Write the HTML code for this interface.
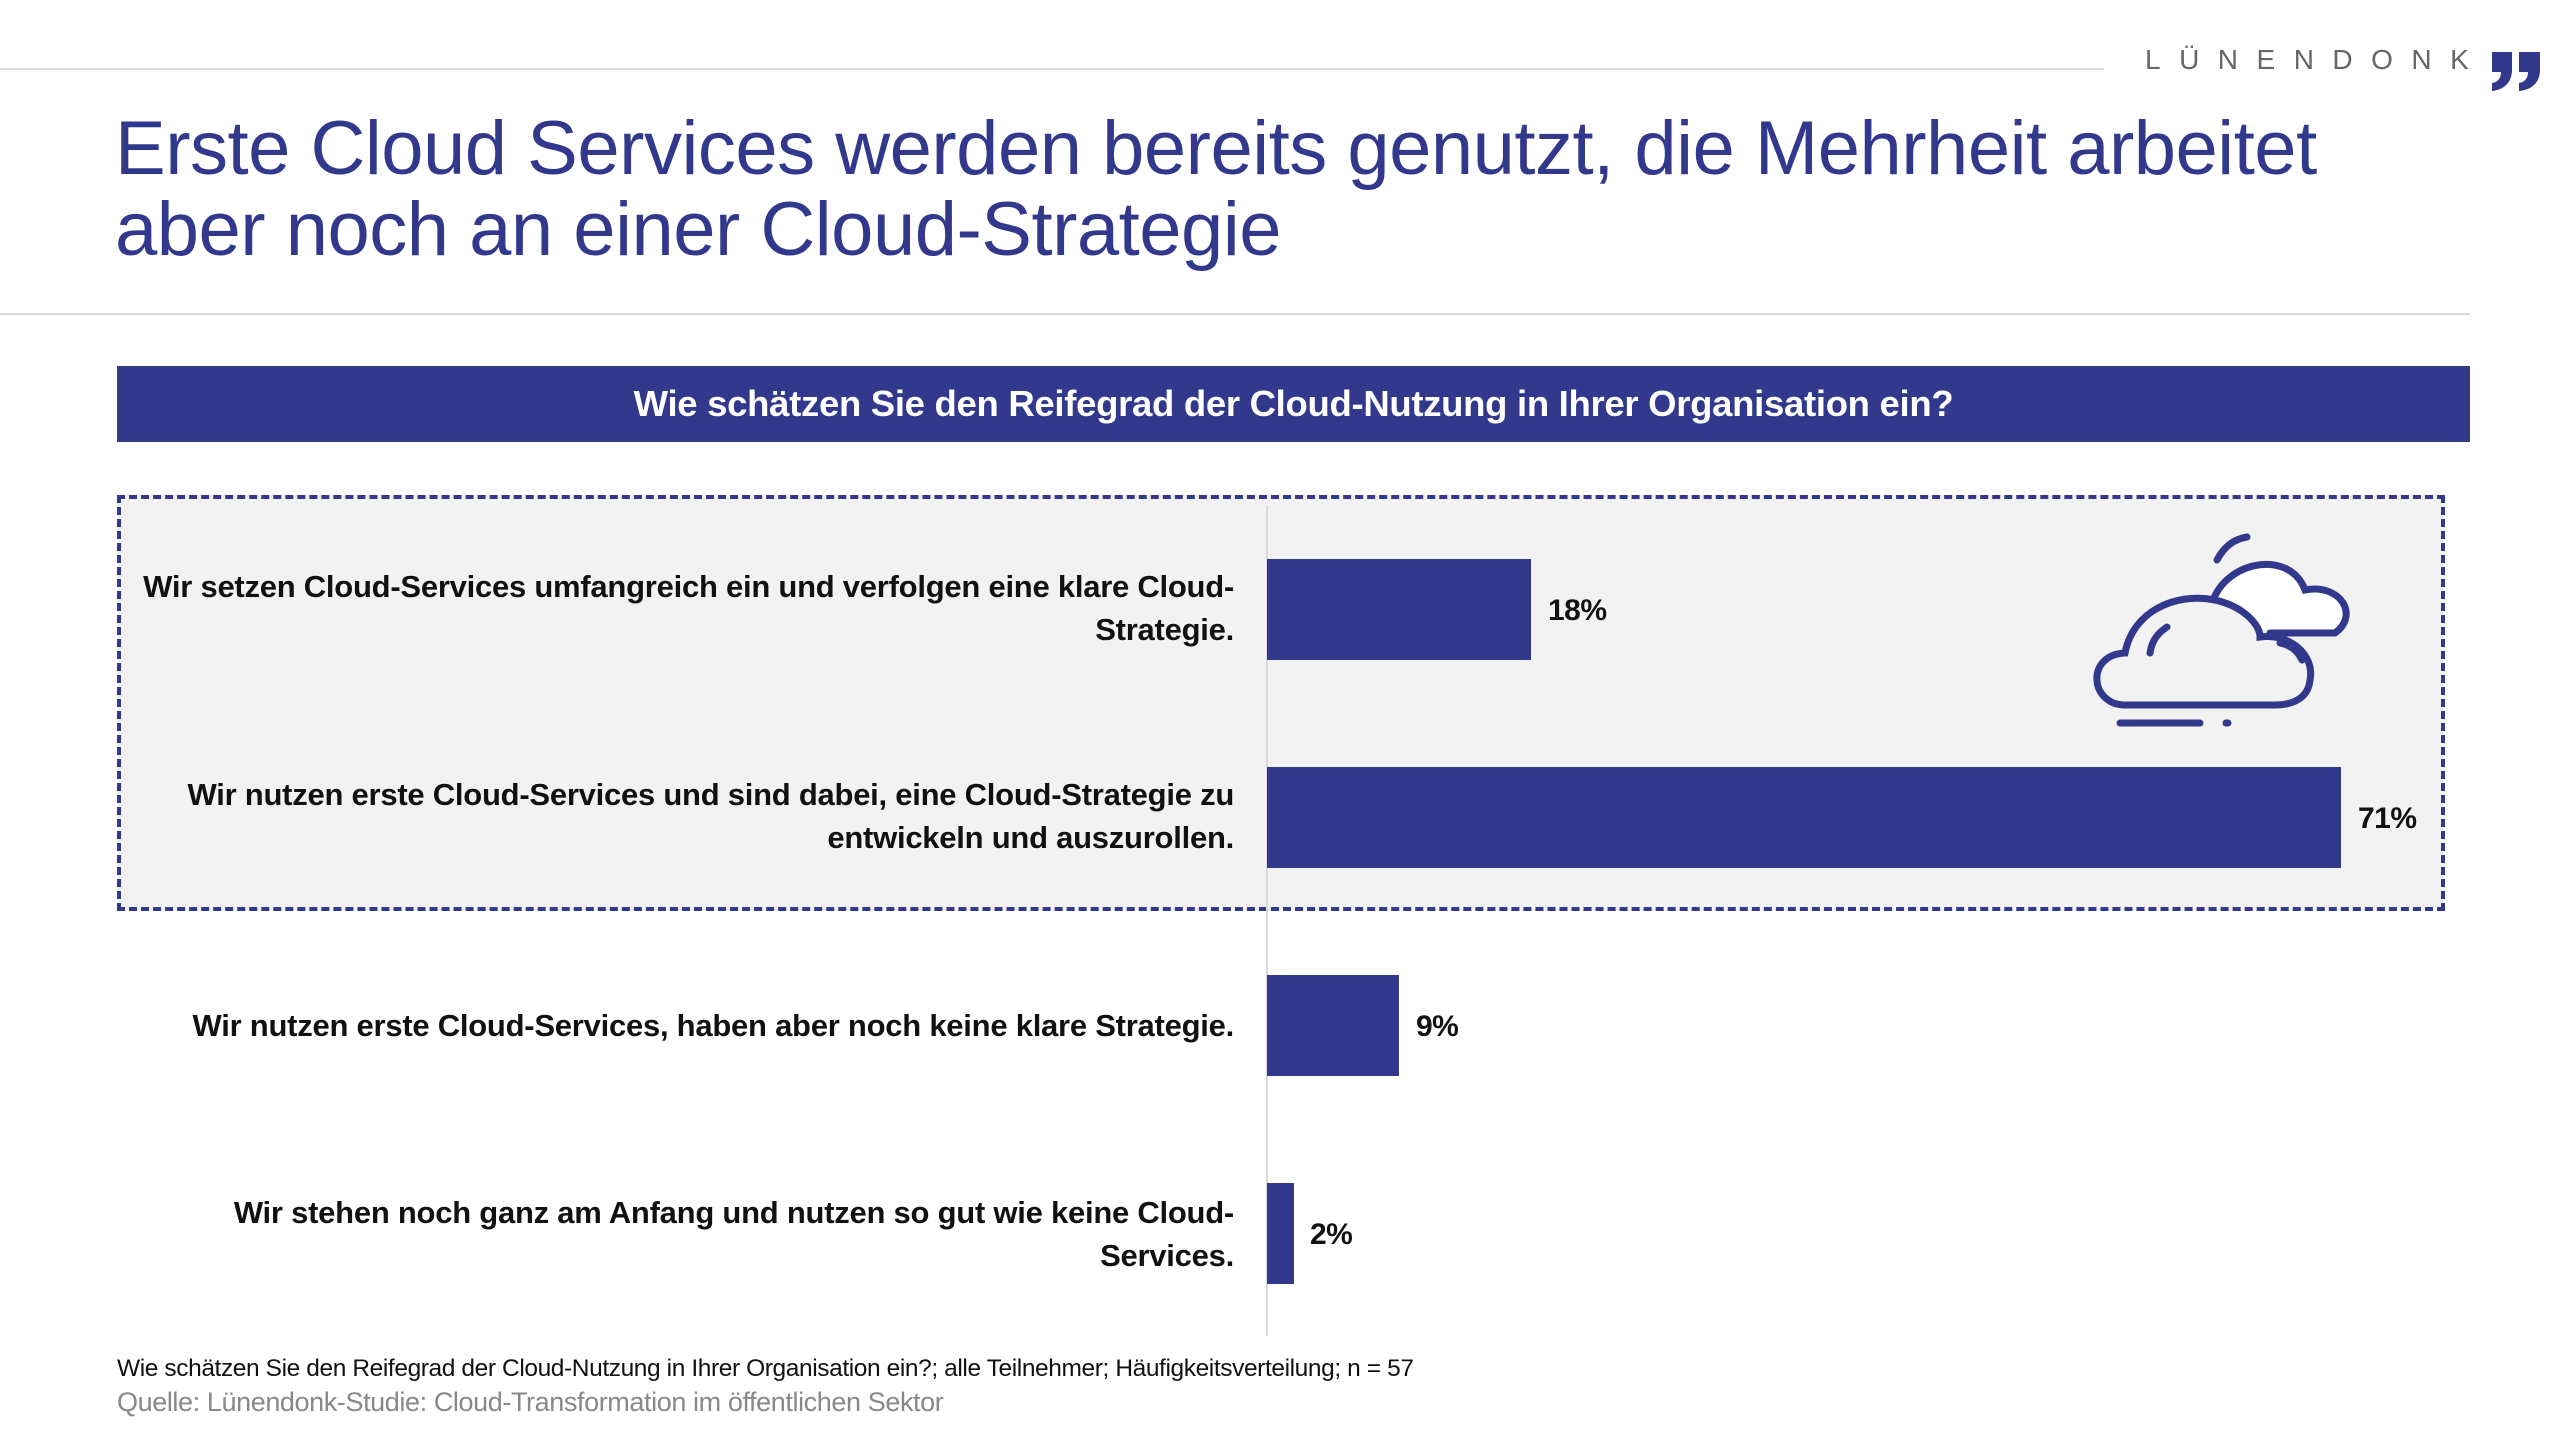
<!DOCTYPE html>
<html><head><meta charset="utf-8"><style>
*{margin:0;padding:0;box-sizing:border-box}
body{width:2560px;height:1440px;background:#fff;position:relative;overflow:hidden;font-family:"Liberation Sans",sans-serif}
.a{position:absolute}
.lbl{position:absolute;right:1326px;text-align:right;font-weight:bold;font-size:31px;line-height:43px;color:#111;letter-spacing:-0.25px;white-space:nowrap}
.bar{position:absolute;left:1267px;background:#32398c;height:101px}
.val{position:absolute;font-weight:bold;font-size:30px;color:#111;letter-spacing:-0.5px}
</style></head><body>
<div class="a" style="left:0;top:68px;width:2104px;height:2px;background:#d9d9d9"></div>
<div class="a" style="left:2145px;top:44px;font-size:28px;color:#666;letter-spacing:18.5px">LÜNENDONK</div>
<svg class="a" style="left:2490px;top:50px" width="52" height="42" viewBox="0 0 52 42" fill="#32398c">
<path d="M2 2 H22 V20 C22 32 14 40 2 41 V33 C8 32 11 28 11 22 H2 Z"/>
<path d="M29 2 H50 V20 C50 32 42 40 29 41 V33 C35 32 38 28 38 22 H29 Z"/>
</svg>
<div class="a" style="left:115px;top:108px;font-size:76px;line-height:81px;color:#32398c;letter-spacing:-0.5px">Erste Cloud Services werden bereits genutzt, die Mehrheit arbeitet<br>aber noch an einer Cloud-Strategie</div>
<div class="a" style="left:0;top:313px;width:2470px;height:2px;background:#d9d9d9"></div>
<div class="a" style="left:117px;top:366px;width:2353px;height:76px;background:#32398c;color:#fff;font-weight:bold;font-size:36.5px;line-height:76px;text-align:center;letter-spacing:-0.3px">Wie schätzen Sie den Reifegrad der Cloud-Nutzung in Ihrer Organisation ein?</div>
<div class="a" style="left:117px;top:495px;width:2328px;height:416px;background:#f2f2f2;border:4px dashed #32398c"></div>
<div class="a" style="left:1266px;top:505px;width:2px;height:831px;background:#d9d9d9"></div>
<div class="lbl" style="top:565px">Wir setzen Cloud-Services umfangreich ein und verfolgen eine klare Cloud-<br>Strategie.</div>
<div class="lbl" style="top:773px">Wir nutzen erste Cloud-Services und sind dabei, eine Cloud-Strategie zu<br>entwickeln und auszurollen.</div>
<div class="lbl" style="top:1004px">Wir nutzen erste Cloud-Services, haben aber noch keine klare Strategie.</div>
<div class="lbl" style="top:1191px">Wir stehen noch ganz am Anfang und nutzen so gut wie keine Cloud-<br>Services.</div>
<div class="bar" style="top:559px;width:264px"></div>
<div class="bar" style="top:767px;width:1074px"></div>
<div class="bar" style="top:975px;width:132px"></div>
<div class="bar" style="top:1183px;width:27px"></div>
<div class="val" style="left:1548px;top:594px">18%</div>
<div class="val" style="left:2358px;top:802px">71%</div>
<div class="val" style="left:1416px;top:1010px">9%</div>
<div class="val" style="left:1310px;top:1218px">2%</div>
<svg class="a" style="left:2080px;top:515px" width="280" height="225" viewBox="0 0 280 225" fill="none" stroke="#32398c" stroke-width="7" stroke-linecap="round">
<path d="M134 83 C150 45 210 35 225 75 C260 68 280 100 255 118 L190 118" fill="#fff"/>
<path d="M137 45 C145 30 155 24 167 22"/>
<path d="M45 190 C10 190 5 140 45 138 C55 85 120 70 160 95 C175 105 180 115 180 122 C210 118 235 140 230 165 C228 185 210 190 195 190 Z"/>
<path d="M70 138 C72 125 78 118 87 112"/>
<path d="M200 128 C210 130 218 136 222 145"/>
<path d="M40 208 L120 208"/><path d="M146 208 L148 208"/>
</svg>
<div class="a" style="left:117px;top:1355px;font-size:24.5px;color:#111;letter-spacing:-0.4px">Wie schätzen Sie den Reifegrad der Cloud-Nutzung in Ihrer Organisation ein?; alle Teilnehmer; Häufigkeitsverteilung; n = 57</div>
<div class="a" style="left:117px;top:1387px;font-size:27px;color:#888;letter-spacing:-0.4px">Quelle: Lünendonk-Studie: Cloud-Transformation im öffentlichen Sektor</div>
</body></html>
